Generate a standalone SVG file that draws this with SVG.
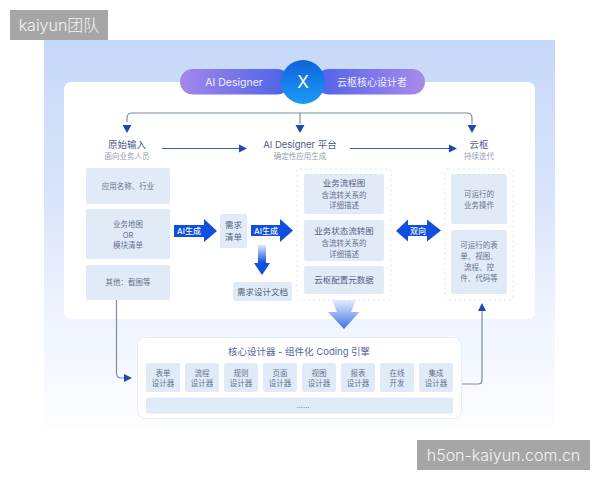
<svg xmlns="http://www.w3.org/2000/svg" width="600" height="480" viewBox="0 0 600 480">
<style>
text{font-family:"Inter","Noto Sans CJK SC",sans-serif;text-anchor:middle}
.box{fill:#e1ebf8}
.t{font-size:7.500px;fill:#66728c}
.h{font-size:9.500px;fill:#4f5d82}
.s{font-size:7.500px;fill:#939db4}
.d{font-size:8.500px;fill:#525e7a}
.w{font-size:8px;fill:#f2f6ff;font-weight:500}
.line{fill:none;stroke:#7b8cb0;stroke-width:1.200}
.bl{fill:none;stroke:#3f63b5;stroke-width:1}
.tip{fill:#1f48b4}
.dash{fill:#fff;stroke:#dfe5ee;stroke-width:1;stroke-dasharray:2 3}
.mark{font-size:16px;fill:#f4f4f4;font-weight:300}
</style>
<defs>
<linearGradient id="bg" x1="0" y1="0" x2="0" y2="1"><stop offset="0" stop-color="#c6d8f9"/><stop offset=".4" stop-color="#d8e4fb"/><stop offset=".72" stop-color="#eff4fe"/><stop offset="1" stop-color="#fcfdff"/></linearGradient>
<linearGradient id="p1" x1="0" y1="0" x2="1" y2="0"><stop offset="0" stop-color="#a487ec"/><stop offset="1" stop-color="#4a63e8"/></linearGradient>
<linearGradient id="p2" x1="0" y1="0" x2="1" y2="0"><stop offset="0" stop-color="#4f62ea"/><stop offset="1" stop-color="#a88bea"/></linearGradient>
<linearGradient id="c" x1="0" y1="0" x2="0" y2="1"><stop offset="0" stop-color="#0f63dc"/><stop offset="1" stop-color="#1c9bf5"/></linearGradient>
<linearGradient id="down1" x1="0" y1="0" x2="0" y2="1"><stop offset="0" stop-color="#dce8fb"/><stop offset=".6" stop-color="#0f4fe0"/><stop offset="1" stop-color="#0f4fe0"/></linearGradient>
<linearGradient id="down2" x1="0" y1="0" x2="0" y2="1"><stop offset="0" stop-color="#e3ecfb"/><stop offset="1" stop-color="#3d72ea"/></linearGradient>
</defs>
<rect width="600" height="480" fill="#fff"/>
<rect x="44" y="40" width="511" height="386" fill="url(#bg)"/>
<rect x="64" y="82" width="471" height="237" rx="7" fill="#fff"/>
<g id="header">
<rect x="180" y="69" width="110" height="25.500" rx="12.700" fill="url(#p1)"/>
<text x="234" y="86" style="font-size:10.500px;fill:#eef0ff">AI Designer</text>
<rect x="316" y="69" width="109" height="25.500" rx="12.700" fill="url(#p2)"/>
<text x="372" y="86" style="font-size:10px;fill:#eef0ff">云枢核心设计者</text>
<circle cx="303" cy="82" r="22" fill="url(#c)"/>
<text x="303" y="88" style="font-size:17px;fill:#fff">X</text>
</g>
<g id="connectors">
<path class="line" d="M127 122V118Q127 113 132 113H467Q472 113 472 118V124"/>
<path class="line" d="M300 113V124"/>
<path class="tip" d="M122.500 125H131.500L127 133Z"/>
<path class="tip" d="M295.500 125H304.500L300 133Z"/>
<path class="tip" d="M467.500 125H476.500L472 133Z"/>
<path class="bl" d="M162 148.500H240"/>
<path class="tip" d="M239 144.500L247 148.500L239 152.500Z"/>
<path class="bl" d="M350 148.500H450"/>
<path class="tip" d="M449 144.500L457 148.500L449 152.500Z"/>
<path class="line" d="M116.500 300V373Q116.500 378 121 378H126"/>
<path class="tip" d="M124 374L132 378L124 382Z"/>
<path class="line" d="M462 384H478Q482 384 482 380V308"/>
<path class="tip" d="M478 311L482 303L486 311Z"/>
<path fill="#0f4fe0" d="M174 225H204V219L217 231L204 242V237H174Z"/>
<path fill="#0f4fe0" d="M251 225H280V219L293 230.500L280 242V236H251Z"/>
<path fill="url(#down1)" d="M258 245H266V263H270L262 275L254 263H258Z"/>
<path fill="#0f4fe0" d="M396 231L408 219.500V225H427V219.500L441 230.500L427 241.500V236H408V241.500Z"/>
</g>
<g id="n-input-title"><text class="h" x="127" y="148">原始输入</text><text class="s" x="127" y="159">面向业务人员</text></g>
<g id="n-platform-title"><text class="h" x="300" y="148">AI Designer 平台</text><text class="s" x="300" y="159">确定性应用生成</text></g>
<g id="n-yunshu-title"><text class="h" x="479" y="148">云枢</text><text class="s" x="479" y="159">持续迭代</text></g>
<g id="n-a1"><rect class="box" x="86" y="168" width="84" height="36" rx="2"/><text class="t" x="128" y="189">应用名称、行业</text></g>
<g id="n-a2"><rect class="box" x="86" y="209" width="84" height="50" rx="2"/><text class="t" x="128" y="227">业务地图</text><text class="t" x="128" y="237.500">OR</text><text class="t" x="128" y="248">模块清单</text></g>
<g id="n-a3"><rect class="box" x="86" y="265" width="84" height="35" rx="2"/><text class="t" x="128" y="285">其他：截图等</text></g>
<g id="n-ai1"><text class="w" x="189" y="234">AI生成</text></g>
<g id="n-req"><rect class="box" x="220" y="214" width="27" height="34" rx="2"/><text class="d" x="233.500" y="228">需求</text><text class="d" x="233.500" y="240">清单</text></g>
<g id="n-ai2"><text class="w" x="266" y="234">AI生成</text></g>
<g id="n-doc"><rect class="box" x="233" y="282" width="59" height="19" rx="2"/><text class="d" x="262.500" y="295">需求设计文档</text></g>
<g id="n-mid">
<rect class="dash" x="297" y="169" width="94" height="131" rx="3"/>
<rect class="box" x="304" y="174" width="80" height="40" rx="2"/>
<text class="d" x="344" y="186">业务流程图</text><text class="t" x="344" y="198">含流转关系的</text><text class="t" x="344" y="208">详细描述</text>
<rect class="box" x="304" y="220" width="80" height="41" rx="2"/>
<text class="d" x="344" y="234">业务状态流转图</text><text class="t" x="344" y="246">含流转关系的</text><text class="t" x="344" y="257">详细描述</text>
<rect class="box" x="304" y="266" width="80" height="28" rx="2"/>
<text class="d" x="344" y="283">云枢配置元数据</text>
</g>
<g id="n-two"><text class="w" x="418" y="234">双向</text></g>
<g id="n-right">
<rect class="dash" x="445" y="169" width="68" height="131" rx="3"/>
<rect class="box" x="451" y="174" width="56" height="50" rx="2"/>
<text class="t" x="479" y="197">可运行的</text><text class="t" x="479" y="208">业务操作</text>
<rect class="box" x="451" y="230" width="56" height="64" rx="2"/>
<text class="t" x="479" y="248">可运行的表</text><text class="t" x="479" y="259">单、视图、</text><text class="t" x="479" y="270">流程、控</text><text class="t" x="479" y="281">件、代码等</text>
</g>
<path fill="url(#down2)" d="M332 300H356L351 312H359.500L344 329L328 312H337Z"/>
<g id="n-engine">
<rect x="137.500" y="337.500" width="324" height="81" rx="8" fill="#fff" stroke="#e7edf6"/>
<text x="299" y="355" style="font-size:9.500px;fill:#55659a">核心设计器 - 组件化 Coding 引擎</text>
<g>
<rect class="box" x="146" y="363" width="34" height="29" rx="2"/><text class="t" x="163" y="376">表单</text><text class="t" x="163" y="386">设计器</text>
<rect class="box" x="185" y="363" width="34" height="29" rx="2"/><text class="t" x="202" y="376">流程</text><text class="t" x="202" y="386">设计器</text>
<rect class="box" x="224" y="363" width="34" height="29" rx="2"/><text class="t" x="241" y="376">规则</text><text class="t" x="241" y="386">设计器</text>
<rect class="box" x="263" y="363" width="34" height="29" rx="2"/><text class="t" x="280" y="376">页面</text><text class="t" x="280" y="386">设计器</text>
<rect class="box" x="302" y="363" width="34" height="29" rx="2"/><text class="t" x="319" y="376">视图</text><text class="t" x="319" y="386">设计器</text>
<rect class="box" x="341" y="363" width="34" height="29" rx="2"/><text class="t" x="358" y="376">报表</text><text class="t" x="358" y="386">设计器</text>
<rect class="box" x="380" y="363" width="34" height="29" rx="2"/><text class="t" x="397" y="376">在线</text><text class="t" x="397" y="386">开发</text>
<rect class="box" x="419" y="363" width="34" height="29" rx="2"/><text class="t" x="436" y="376">集成</text><text class="t" x="436" y="386">设计器</text>
</g>
<rect class="box" x="146" y="397.500" width="307" height="16" rx="2"/>
<text class="t" x="303" y="408">……</text>
</g>
<g id="watermarks">
<rect x="10" y="10" width="98" height="30" fill="#a6a6a6"/>
<text class="mark" x="59" y="30.500">kaiyun团队</text>
<rect x="417" y="440" width="173" height="30" fill="#a6a6a6"/>
<text class="mark" x="503.500" y="460.500">h5on-kaiyun.com.cn</text>
</g>
</svg>
